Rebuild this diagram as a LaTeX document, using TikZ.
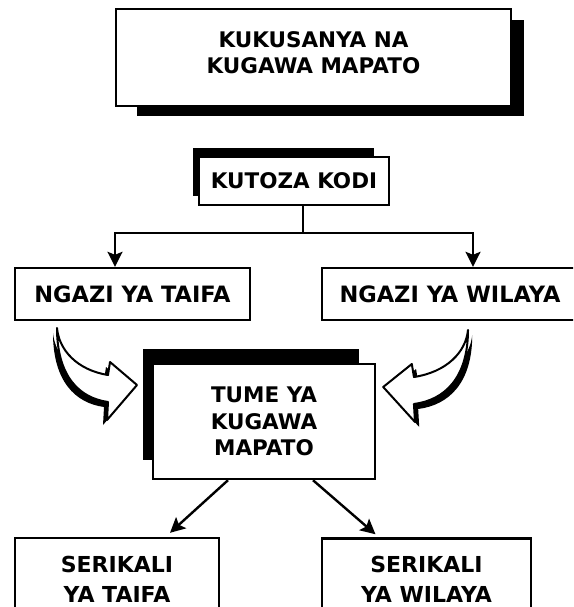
\documentclass[tikz,border=0pt]{standalone}
\usepackage{fontspec}
\setmainfont{DejaVu Sans}
\usetikzlibrary{arrows.meta}
\tikzset{
  kisanduku/.style={draw,line width=2.4pt,fill=white,align=center,inner sep=0pt,
    font=\bfseries\fontsize{21.5}{26.5}\selectfont},
  mshale/.style={line width=2.4pt,-{Stealth[length=15pt,width=15pt,inset=3pt]}}
}
% umbo la mshale uliopinda
\newcommand\umbomshale{(0,0) .. controls (2,22) and (20,42) .. (51,47) -- (53,34)
  -- (80,57) -- (50,92) -- (51,74) .. controls (22,70) and (0,48) .. cycle}
\begin{document}
\begin{tikzpicture}[x=1pt,y=-1pt]
\useasboundingbox (0,0) rectangle (573,607);
\clip (0,0) rectangle (573,607);
%
% vivuli
\fill (137,20) rectangle (524,116);
\fill (193,148) rectangle (374,196);
\fill (143,349) rectangle (359,460);
%
\node[kisanduku,minimum width=395pt,minimum height=97pt,text depth=10pt] (mada) at (313.5,57.5) {KUKUSANYA NA\\KUGAWA MAPATO};
\node[kisanduku,minimum width=190pt,minimum height=48pt] (kodi) at (294,181) {KUTOZA KODI};
\node[kisanduku,minimum width=235pt,minimum height=52pt,font=\bfseries\fontsize{22.5}{27}\selectfont] (ngt) at (132.5,294) {NGAZI YA TAIFA};
\node[kisanduku,minimum width=256pt,minimum height=52pt,font=\bfseries\fontsize{22.5}{27}\selectfont] (ngw) at (450,294) {NGAZI YA WILAYA};
\node[kisanduku,minimum width=222pt,minimum height=115pt] (tume) at (264,421.5) {TUME YA\\KUGAWA\\MAPATO};
\node[kisanduku,minimum width=204pt,minimum height=90pt,text depth=8pt,font=\bfseries\fontsize{22}{30}\selectfont] (skt) at (117,583) {SERIKALI\\YA TAIFA};
\node[kisanduku,minimum width=209pt,minimum height=90pt,text depth=8pt,font=\bfseries\fontsize{22}{30}\selectfont] (skw) at (426.5,583.5) {SERIKALI\\YA WILAYA};
%
% kodi kwa ngazi
\coordinate (tawi) at (303,233);
\draw[line width=2.4pt] (tawi |- kodi.south) -- (tawi);
\draw[mshale] (tawi) -| ([xshift=-17.5pt]ngt.north);
\draw[mshale] (tawi) -| ([xshift=23pt]ngw.north);
%
% tume kwa serikali
\draw[mshale] ([xshift=-36pt]tume.south) -- ([xshift=53pt,yshift=4pt]skt.north);
\draw[mshale] ([xshift=49pt]tume.south) -- ([xshift=-51pt,yshift=3pt]skw.north);
%
% mishale iliyopinda
\foreach \px/\py/\s in {57/328/1,468/330/-1.06}
{
\begin{scope}[shift={(\px,\py)},xscale=\s]
\fill[shift={(-4,5)}] \umbomshale;
\draw[line width=2pt,fill=white,line join=round] \umbomshale;
\end{scope}
}
\end{tikzpicture}
\end{document}
